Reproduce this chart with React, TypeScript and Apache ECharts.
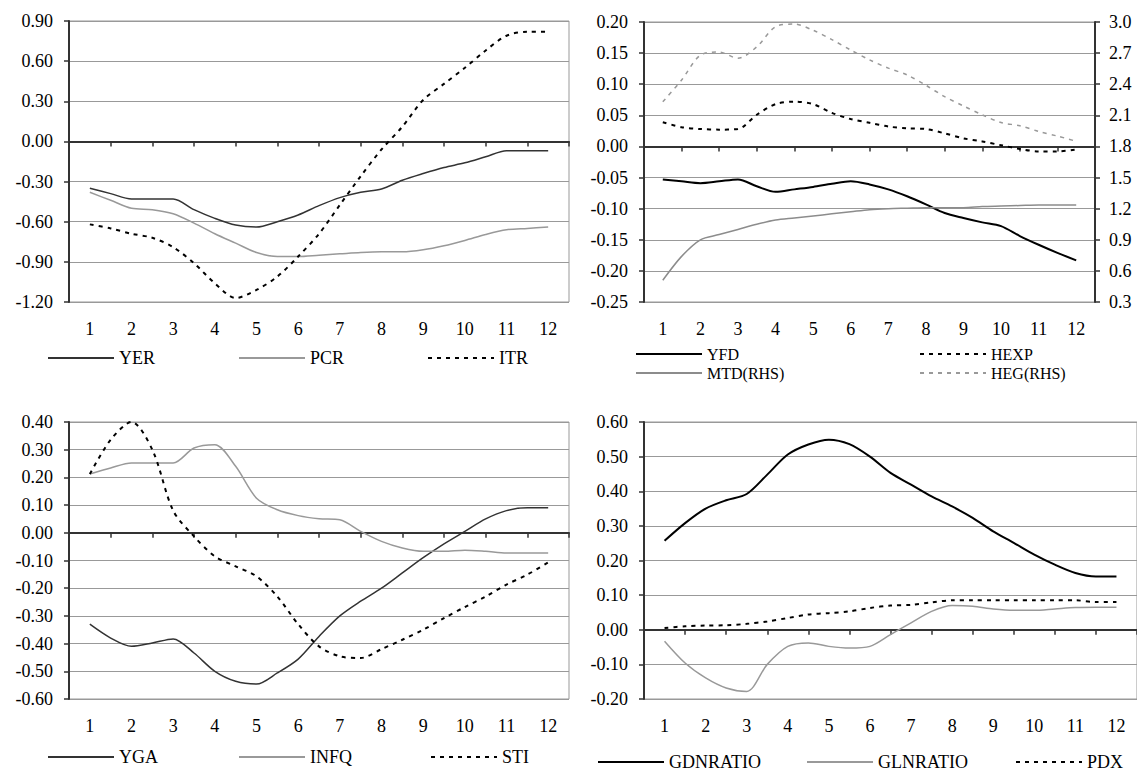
import React, { useEffect, useRef } from 'react';
import * as echarts from 'echarts';

// x axis: 12 periods, series sampled every half period
const categories = ['1', '2', '3', '4', '5', '6', '7', '8', '9', '10', '11', '12'];
const steps = [1, 1.5, 2, 2.5, 3, 3.5, 4, 4.5, 5, 5.5, 6, 6.5, 7, 7.5, 8, 8.5, 9, 9.5, 10, 10.5, 11, 11.5, 12];

// panel 1 (top left)
const yer = [-0.35, -0.39, -0.43, -0.43, -0.43, -0.51, -0.575, -0.625, -0.64, -0.6, -0.55, -0.48, -0.42, -0.38, -0.355, -0.29, -0.24, -0.195, -0.16, -0.115, -0.07, -0.07, -0.07];
const pcr = [-0.38, -0.44, -0.5, -0.51, -0.54, -0.61, -0.69, -0.76, -0.83, -0.86, -0.86, -0.85, -0.84, -0.83, -0.825, -0.825, -0.81, -0.78, -0.74, -0.695, -0.66, -0.65, -0.64];
const itr = [-0.62, -0.65, -0.69, -0.72, -0.79, -0.91, -1.06, -1.17, -1.11, -1.01, -0.86, -0.69, -0.475, -0.26, -0.06, 0.11, 0.31, 0.43, 0.55, 0.68, 0.79, 0.82, 0.82];

// panel 2 (top right), MTD and HEG on the right hand scale
const yfd = [-0.053, -0.056, -0.059, -0.056, -0.053, -0.064, -0.073, -0.069, -0.065, -0.06, -0.056, -0.061, -0.069, -0.08, -0.093, -0.107, -0.115, -0.122, -0.128, -0.144, -0.158, -0.171, -0.183];
const hexp = [0.039, 0.031, 0.028, 0.027, 0.028, 0.051, 0.068, 0.072, 0.068, 0.054, 0.044, 0.038, 0.032, 0.029, 0.028, 0.021, 0.013, 0.008, 0.002, -0.004, -0.008, -0.008, -0.005];
const mtd = [0.51, 0.74, 0.9, 0.95, 1.0, 1.05, 1.09, 1.11, 1.13, 1.15, 1.17, 1.19, 1.2, 1.205, 1.21, 1.21, 1.21, 1.22, 1.225, 1.23, 1.235, 1.235, 1.235];
const heg = [2.23, 2.44, 2.68, 2.71, 2.65, 2.76, 2.955, 2.98, 2.92, 2.83, 2.73, 2.635, 2.555, 2.49, 2.39, 2.28, 2.19, 2.105, 2.03, 2.0, 1.945, 1.9, 1.85];

// panel 3 (bottom left)
const yga = [-0.33, -0.38, -0.41, -0.398, -0.383, -0.434, -0.5, -0.536, -0.546, -0.506, -0.456, -0.374, -0.3, -0.247, -0.2, -0.145, -0.09, -0.04, 0.005, 0.05, 0.08, 0.09, 0.09];
const infq = [0.212, 0.234, 0.252, 0.252, 0.252, 0.306, 0.318, 0.24, 0.125, 0.083, 0.062, 0.051, 0.047, 0.005, -0.031, -0.055, -0.067, -0.067, -0.063, -0.067, -0.073, -0.073, -0.073];
const sti = [0.212, 0.336, 0.4, 0.3, 0.08, -0.013, -0.085, -0.121, -0.157, -0.23, -0.33, -0.41, -0.446, -0.452, -0.42, -0.386, -0.35, -0.308, -0.268, -0.23, -0.187, -0.151, -0.107];

// panel 4 (bottom right)
const gdnratio = [0.257, 0.308, 0.35, 0.374, 0.392, 0.448, 0.506, 0.535, 0.549, 0.536, 0.5, 0.453, 0.419, 0.385, 0.356, 0.323, 0.284, 0.251, 0.217, 0.188, 0.164, 0.154, 0.154];
const glnratio = [-0.033, -0.096, -0.139, -0.168, -0.178, -0.1, -0.048, -0.038, -0.048, -0.053, -0.048, -0.014, 0.02, 0.053, 0.07, 0.068, 0.06, 0.056, 0.056, 0.06, 0.064, 0.065, 0.065];
const pdx = [0.005, 0.01, 0.012, 0.013, 0.017, 0.024, 0.034, 0.044, 0.048, 0.053, 0.063, 0.07, 0.072, 0.079, 0.085, 0.085, 0.085, 0.085, 0.085, 0.085, 0.085, 0.08, 0.08];

const FONT = '"Liberation Serif", "Times New Roman", serif';
const DARK = '#333333';
const GRAY = '#999999';
const DASH = [4, 5];

const grids = [
    { left: 69, top: 21, width: 500, height: 281 },
    { left: 644, top: 22, width: 451, height: 280 },
    { left: 69, top: 422, width: 500, height: 277 },
    { left: 644, top: 422, width: 494, height: 277 },
];

const makeSeries = (
    name: string,
    values: number[],
    grid: number,
    yAxisIndex: number,
    color: string,
    width: number,
    dashed: boolean
) => ({
    type: 'line',
    name,
    xAxisIndex: grid * 2 + 1,
    yAxisIndex,
    data: steps.map((x, i) => [x, values[i]]),
    symbol: 'none',
    smooth: 0.3,
    lineStyle: { color, width, type: dashed ? DASH : 'solid' },
    itemStyle: { color },
});

const valueAxis = (grid: number, min: number, max: number, interval: number, digits: number, position = 'left') => ({
    type: 'value',
    gridIndex: grid,
    position,
    min,
    max,
    interval,
    axisLine: { show: true, lineStyle: { color: DARK, width: 2 } },
    axisTick: { show: true, length: 5, lineStyle: { color: DARK, width: 1.5 } },
    axisLabel: {
        fontFamily: FONT,
        fontSize: 18,
        color: '#000',
        margin: position === 'left' ? 16 : 14,
        formatter: (v: number) => v.toFixed(digits),
    },
    splitLine: { show: position === 'left', lineStyle: { color: GRAY, width: 1 } },
});

// legend entries: [name, left, top, font size]
const legendItems: [string, number, number, number][] = [
    ['YER', 47, 349, 18],
    ['PCR', 238, 349, 18],
    ['ITR', 427, 349, 18],
    ['YFD', 635, 346, 16],
    ['HEXP', 919, 346, 16],
    ['MTD(RHS)', 635, 365, 16],
    ['HEG(RHS)', 919, 365, 16],
    ['YGA', 47, 748, 18],
    ['INFQ', 238, 748, 18],
    ['STI', 430, 748, 18],
    ['GDNRATIO', 597, 753, 18],
    ['GLNRATIO', 806, 753, 18],
    ['PDX', 1015, 753, 18],
];

export default function App() {
    const chartRef = useRef<HTMLDivElement>(null);

    useEffect(() => {
        if (!chartRef.current) return;
        const chart = echarts.init(chartRef.current, undefined, { renderer: 'svg' });

        const xAxis: any[] = [];
        grids.forEach((_, g) => {
            xAxis.push({
                type: 'category',
                gridIndex: g,
                data: categories,
                boundaryGap: true,
                axisLine: { show: true, lineStyle: { color: DARK, width: 2 } },
                axisTick: { show: true, length: 5, lineStyle: { color: DARK, width: 1.5 } },
                axisLabel: { fontFamily: FONT, fontSize: 18, color: '#000', margin: 18, interval: 0 },
                splitLine: { show: false },
            });
            xAxis.push({ type: 'value', gridIndex: g, min: 0.5, max: 12.5, show: false });
        });

        const option = {
            animation: false,
            backgroundColor: '#fff',
            grid: grids.map((g) => ({ ...g, show: true, borderColor: GRAY, borderWidth: 1 })),
            xAxis,
            yAxis: [
                valueAxis(0, -1.2, 0.9, 0.3, 2),
                valueAxis(1, -0.25, 0.2, 0.05, 2),
                valueAxis(1, 0.3, 3.0, 0.3, 1, 'right'),
                valueAxis(2, -0.6, 0.4, 0.1, 2),
                valueAxis(3, -0.2, 0.6, 0.1, 2),
            ],
            legend: legendItems.map(([name, left, top, size]) => ({
                data: [name],
                left,
                top,
                padding: 0,
                itemWidth: 66,
                itemHeight: 14,
                selectedMode: false,
                itemStyle: { opacity: 0 },
                textStyle: { fontFamily: FONT, fontSize: size, lineHeight: 16, color: '#000' },
            })),
            series: [
                makeSeries('YER', yer, 0, 0, DARK, 1.5, false),
                makeSeries('PCR', pcr, 0, 0, GRAY, 1.5, false),
                makeSeries('ITR', itr, 0, 0, '#000', 2, true),
                makeSeries('YFD', yfd, 1, 1, '#000', 2, false),
                makeSeries('HEXP', hexp, 1, 1, '#000', 2, true),
                makeSeries('MTD(RHS)', mtd, 1, 2, '#8c8c8c', 1.5, false),
                makeSeries('HEG(RHS)', heg, 1, 2, GRAY, 1.5, true),
                makeSeries('YGA', yga, 2, 3, DARK, 1.5, false),
                makeSeries('INFQ', infq, 2, 3, GRAY, 1.5, false),
                makeSeries('STI', sti, 2, 3, '#000', 2, true),
                makeSeries('GDNRATIO', gdnratio, 3, 4, '#000', 2, false),
                makeSeries('GLNRATIO', glnratio, 3, 4, GRAY, 1.5, false),
                makeSeries('PDX', pdx, 3, 4, '#000', 2, true),
            ],
        };

        chart.setOption(option);
        return () => chart.dispose();
    }, []);

    return (
        <div
            ref={chartRef}
            style={{ position: 'fixed', left: 0, top: 0, width: 1137, height: 775, background: '#fff' }}
        />
    );
}
